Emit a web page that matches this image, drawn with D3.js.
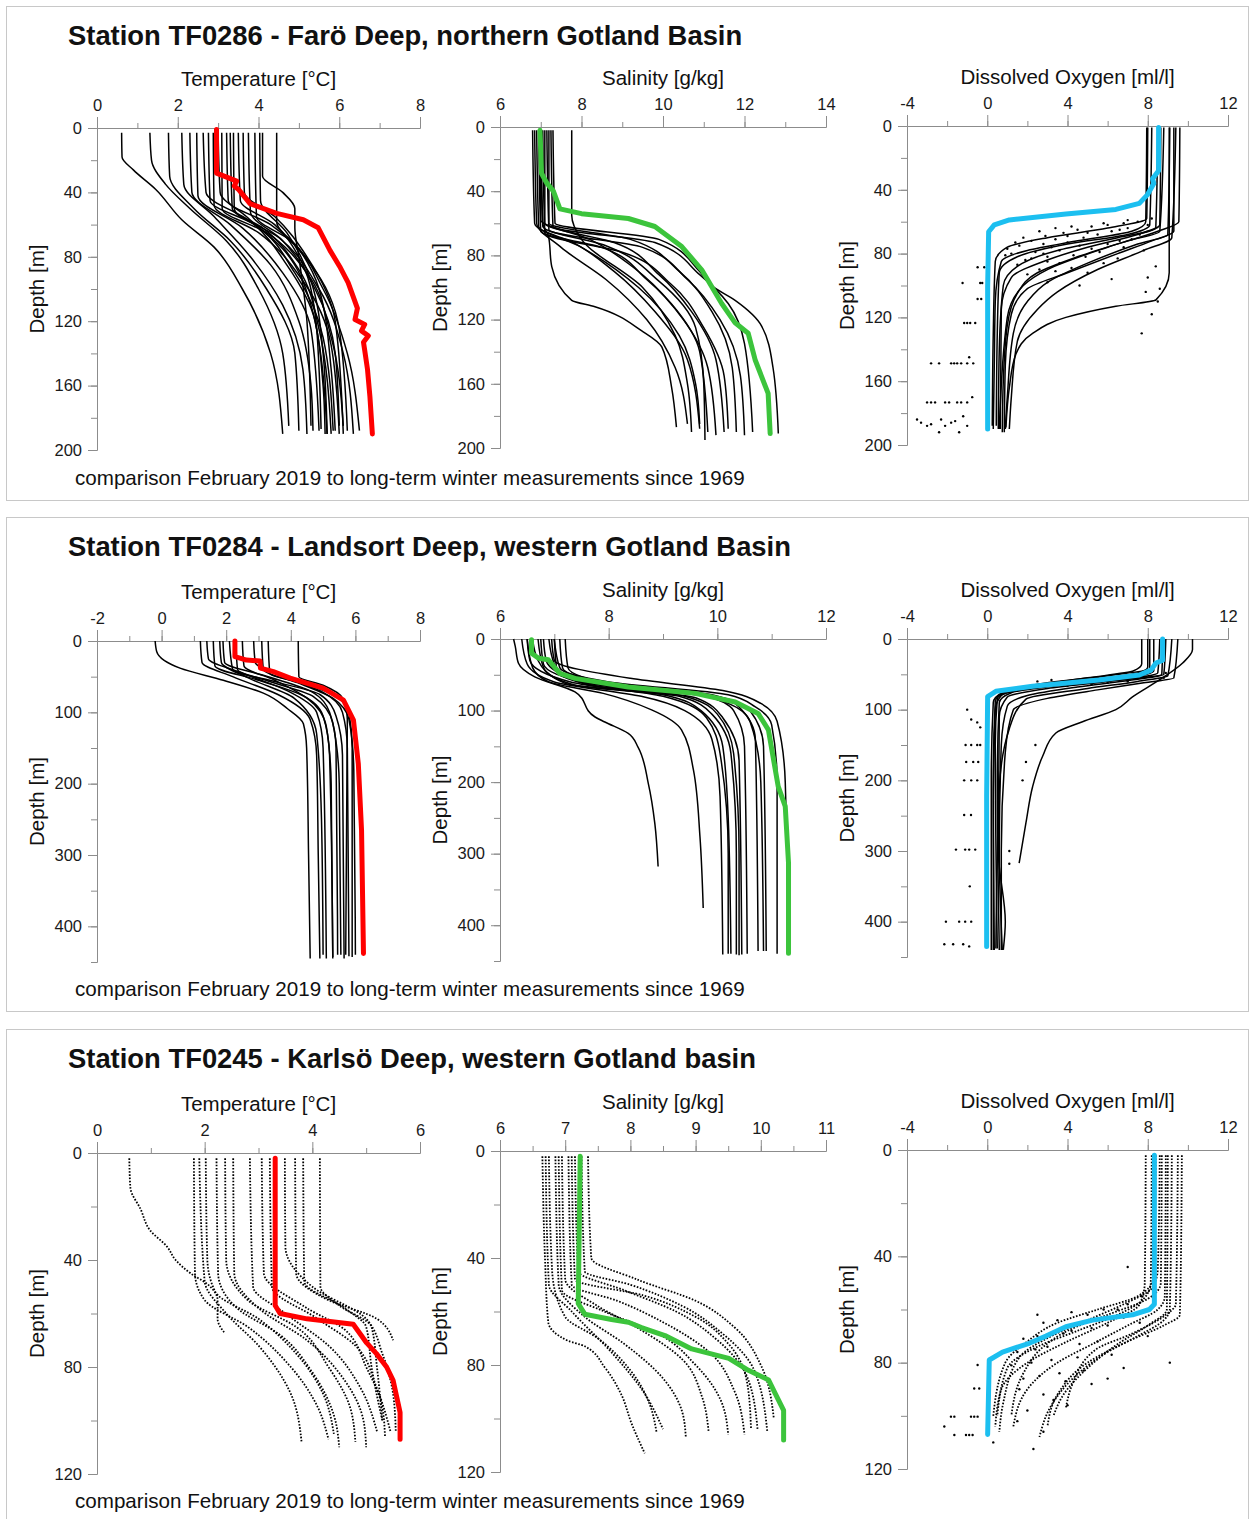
<!DOCTYPE html>
<html>
<head>
<meta charset="utf-8">
<script src="https://cdn.jsdelivr.net/npm/d3@7"></script>
<style>
  body { margin: 0; background: #fff; }
  svg { display: block; font-family: "Liberation Sans", Arial, sans-serif; }
  .axis path, .axis line { stroke: #8c8c8c; }
  .axis text { font-size: 16.5px; fill: #1a1a1a; font-family: "Liberation Sans", Arial, sans-serif; }
</style>
</head>
<body>
<svg id="chart"></svg>
<script>
// ---- texts ----
var stationTitles = [
  "Station TF0286 - Farö Deep, northern Gotland Basin",
  "Station TF0284 - Landsort Deep, western Gotland Basin",
  "Station TF0245 - Karlsö Deep, western Gotland basin"
];
var footNote = "comparison February 2019 to long-term winter measurements since 1969";
var varTitles = ["Temperature [°C]", "Salinity [g/kg]", "Dissolved Oxygen [ml/l]"];
var depthTitle = "Depth [m]";

// ---- tick labels ----
var faroXTicks = [[0, 2, 4, 6, 8], [6, 8, 10, 12, 14], [-4, 0, 4, 8, 12]];
var faroXMinor = [1, 1, 2];
var faroDepthTicks = [0, 40, 80, 120, 160, 200];
var faroDepthMinor = 20, faroDepthMax = 200;

var landsortXTicks = [[-2, 0, 2, 4, 6, 8], [6, 8, 10, 12], [-4, 0, 4, 8, 12]];
var landsortXMinor = [1, 1, 2];
var landsortDepthTicks = [0, 100, 200, 300, 400];
var landsortDepthMinor = 50, landsortDepthMax = 450;

var karlsoXTicks = [[0, 2, 4, 6], [6, 7, 8, 9, 10, 11], [-4, 0, 4, 8, 12]];
var karlsoXMinor = [1, 0.5, 2];
var karlsoDepthTicks = [0, 40, 80, 120];
var karlsoDepthMinor = 20, karlsoDepthMax = 120;

// ---- profiles: [depth, value] ----
// Farö Deep, February 2019
var faroTempNow = [[1,2.96],[28,2.96],[33,3.46],[36,3.4],[38,3.5],[47,3.79],[53,4.45],[57,5.11],[62,5.48],[76,5.77],[86,6.01],[96,6.22],[105,6.35],[112,6.45],[119,6.39],[122,6.63],[126,6.55],[129,6.72],[133,6.6],[138,6.63],[150,6.7],[167,6.76],[190,6.82]];
var faroSalNow = [[2,6.98],[29,7.02],[35,7.15],[40,7.31],[51,7.47],[54,8.0],[57,9.15],[62,9.8],[74.5,10.46],[89,10.95],[110,11.44],[122,11.77],[128.5,12.09],[145,12.26],[166,12.58],[191,12.63]];
var faroOxyNow = [[1,8.54],[28,8.54],[33,8.24],[36,8.3],[43,7.99],[48.5,7.58],[52.3,6.41],[55.2,3.92],[58.9,1.1],[62,0.35],[66.3,0.07],[101,0.02],[190,0.02]];

// Farö Deep, winter profiles since 1969
var faroTempHist = [
  [[3,0.61],[18,0.62],[26,0.9],[38,1.45],[57,2.1],[74,2.9],[100,3.6],[140,4.3],[190,4.6]],
  [[3,1.31],[20,1.35],[35,1.7],[50,2.3],[70,3.2],[100,4.0],[140,4.6],[185,4.75]],
  [[3,1.77],[30,1.8],[50,2.4],[70,3.3],[100,4.2],[140,4.9],[188,5.0]],
  [[3,2.1],[35,2.15],[55,2.9],[80,3.8],[110,4.6],[150,5.1],[190,5.2]],
  [[3,2.3],[40,2.35],[60,3.3],[85,4.3],[120,5.0],[160,5.3],[188,5.35]],
  [[3,2.47],[42,2.5],[62,3.6],[90,4.6],[125,5.3],[188,5.5]],
  [[3,2.63],[40,2.7],[58,3.8],[85,4.7],[120,5.4],[190,5.7]],
  [[3,2.76],[45,2.8],[60,3.9],[90,4.9],[130,5.6],[188,5.85]],
  [[3,2.88],[48,2.9],[65,4.0],[95,5.1],[135,5.8],[190,6.0]],
  [[3,3.0],[40,3.05],[55,3.7],[75,4.6],[110,5.3],[160,5.6],[190,5.65]],
  [[3,3.09],[50,3.1],[65,4.2],[90,5.2],[130,5.8],[185,6.1]],
  [[3,3.21],[45,3.25],[60,4.3],[85,5.3],[125,6.0],[188,6.2]],
  [[3,3.3],[50,3.35],[62,4.1],[88,5.0],[125,5.5],[190,5.8]],
  [[3,3.38],[50,3.4],[68,4.5],[100,5.5],[140,6.1],[190,6.35]],
  [[3,3.5],[45,3.55],[60,4.4],[80,5.0],[115,5.4],[150,5.5],[187,5.55]],
  [[3,3.62],[40,3.65],[55,4.4],[80,5.2],[120,5.9],[190,6.1]],
  [[3,3.75],[52,3.8],[70,4.6],[100,5.4],[140,5.9],[185,6.0]],
  [[3,3.91],[55,3.95],[70,4.8],[100,5.6],[140,6.2],[188,6.5]],
  [[3,4.03],[45,4.05],[65,4.7],[95,5.3],[140,5.6],[190,5.7]],
  [[3,4.1],[30,4.1],[40,4.6],[50,4.9],[62,4.9],[80,5.0],[120,5.2],[185,5.3]],
  [[3,4.45],[58,4.45],[75,5.0],[100,5.5],[150,5.8],[188,5.9]]
];
var faroSalHist = [
  [[2,7.76],[55,7.76],[70,8.0],[100,9.5],[130,10.3],[160,10.6],[190,10.7]],
  [[2,7.0],[60,7.05],[68,7.19],[87,7.27],[108,7.76],[112,8.33],[127,9.48],[137,9.97],[162,10.21],[187,10.33]],
  [[2,6.85],[60,6.9],[75,7.5],[95,8.6],[120,9.6],[150,10.3],[185,10.6]],
  [[2,6.9],[62,6.95],[72,7.8],[90,8.8],[115,9.8],[145,10.6],[188,10.9]],
  [[2,7.0],[58,7.0],[70,8.2],[88,9.3],[110,10.2],[140,10.9],[190,11.1]],
  [[2,6.95],[65,7.0],[75,8.5],[95,9.6],[120,10.5],[150,11.1],[192,11.3]],
  [[2,7.1],[60,7.1],[72,8.8],[92,9.9],[115,10.7],[145,11.3],[190,11.5]],
  [[2,7.05],[66,7.1],[78,9.0],[98,10.2],[125,11.0],[155,11.5],[188,11.6]],
  [[2,7.2],[60,7.2],[70,9.2],[90,10.4],[115,11.2],[150,11.7],[190,11.8]],
  [[2,7.15],[64,7.2],[75,9.5],[95,10.6],[120,11.4],[155,11.9],[192,12.0]],
  [[2,7.25],[62,7.3],[72,9.8],[92,10.9],[110,11.6],[135,12.0],[190,12.2]],
  [[2,7.3],[60,7.35],[70,9.9],[90,10.9],[99,11.2],[108,11.77],[124,12.42],[150,12.7],[191,12.83]],
  [[2,6.8],[60,6.85],[75,8.0],[100,9.4],[130,10.4],[160,10.8],[185,10.9]],
  [[2,7.0],[62,7.05],[74,8.6],[96,9.9],[125,10.8],[160,11.0],[195,11.03]]
];
var faroOxyHist = [
  [[1,7.95],[60,7.9],[66,7.2],[72,4.5],[78,2.0],[85,0.7],[110,0.4],[150,0.35],[190,0.3]],
  [[1,8.2],[62,8.1],[68,7.0],[74,4.0],[82,1.5],[92,0.6],[130,0.5],[188,0.45]],
  [[1,8.5],[64,8.4],[70,6.5],[78,3.5],[88,1.5],[100,0.8],[140,0.6],[190,0.55]],
  [[1,8.8],[66,8.6],[72,7.0],[82,4.5],[92,2.5],[105,1.5],[125,1.0],[160,0.8],[192,0.75]],
  [[1,9.1],[68,9.0],[74,7.5],[86,5.0],[98,3.0],[110,2.0],[130,1.3],[170,1.0],[190,0.9]],
  [[1,9.4],[70,9.2],[78,7.8],[90,5.5],[104,3.5],[115,2.5],[135,1.5],[170,1.2],[190,1.1]],
  [[1,9.07],[92,9.07],[109,8.41],[113,6.41],[120,3.92],[130,2.26],[143,1.43],[164,1.1],[189,0.93]],
  [[1,9.6],[60,9.55],[66,8.5],[76,6.0],[90,3.0],[100,1.8],[120,1.0],[190,0.6]],
  [[1,8.0],[58,7.95],[64,6.0],[70,3.0],[76,1.0],[85,0.4],[130,0.3],[188,0.25]],
  [[1,8.65],[62,8.6],[68,7.5],[76,5.0],[84,3.0],[95,1.2],[115,0.7],[190,0.65]],
  [[1,9.3],[66,9.3],[72,8.2],[80,6.5],[92,4.0],[102,2.0],[118,1.2],[150,0.9],[192,0.85]]
];
var faroOxyDots = [
  [60,7.5],[61,6.8],[62,6.0],[63,5.2],[64,7.0],[65,4.5],[66,6.2],[67,3.8],[68,5.5],[69,2.9],[70,4.8],
  [71,7.2],[72,2.2],[73,4.0],[74,6.0],[75,1.6],[76,3.2],[77,5.2],[78,7.8],[79,2.4],[80,1.2],[81,4.3],
  [82,3.0],[83,6.5],[84,1.9],[86,3.6],[88,8.4],[90,2.6],[92,5.0],[95,8.0],[100,4.6],[104,7.9],
  [58,8.2],[59,7.0],[61,5.8],[62,8.0],[63,4.2],[64,3.4],[65,6.6],[66,2.6],[67,5.0],[68,7.6],[69,4.0],
  [70,1.8],[71,3.4],[72,6.6],[73,1.4],[74,2.8],[75,4.6],[76,6.8],[77,1.0],[78,3.6],[79,5.6],[80,2.8],
  [81,0.9],[82,4.9],[83,2.2],[85,3.0],[86,5.8],[87,1.5],[89,4.2],[91,3.4],[93,2.0],[96,6.2],[98,3.0],
  [102,8.6],[110,8.5],[118,8.2],[130,7.7],
  [88.6,-0.48],[88.6,-0.15],[98.4,-1.23],[98.4,-0.35],[98.4,-0.25],[108.5,-0.48],[108.5,-0.3],
  [123.5,-1.15],[123.5,-1.0],[123.5,-0.85],[123.5,-0.6],[148.8,-2.8],[148.8,-2.4],[148.8,-1.8],
  [148.8,-1.65],[148.8,-1.5],[148.8,-1.3],[148.8,-1.0],[148.8,-0.7],[145,-0.9],[173.3,-3.0],
  [173.3,-2.8],[173.3,-2.6],[173.3,-2.1],[173.3,-1.9],[173.3,-1.5],[173.3,-1.3],[173.3,-1.0],
  [170,-0.75],[184,-3.5],[186,-3.3],[188,-3.0],[187,-2.8],[184,-2.3],[188,-2.1],[186,-1.8],
  [185,-1.6],[182,-1.2],[188,-1.0],[192,-1.4],[192,-2.4]
];

// Landsort Deep, February 2019
var landsortTempNow = [[0,2.27],[22,2.27],[26.7,2.63],[28,3.05],[38,3.06],[43,3.46],[52,3.98],[66,5.0],[83,5.63],[111,5.94],[172,6.09],[265,6.19],[438,6.25]];
var landsortSalNow = [[1,6.58],[20,6.58],[27,6.71],[29,6.89],[48,7.1],[55,7.38],[67,8.36],[76,9.59],[88,10.33],[104,10.75],[127,10.94],[206,11.12],[234,11.25],[313,11.31],[439,11.31]];
var landsortOxyNow = [[0,8.74],[30,8.74],[34,8.41],[44,8.16],[51,7.58],[58,5.58],[67,2.26],[74,0.43],[81.5,0.02],[223,-0.03],[435,-0.03]];

// Landsort Deep, winter profiles since 1969
var landsortTempHist = [
  [[0,-0.2],[15,-0.15],[38,0.57],[55,1.91],[73,3.15],[95,3.9],[116,4.39],[150,4.49],[300,4.55],[445,4.6]],
  [[0,1.2],[30,1.25],[50,2.2],[75,3.6],[110,4.6],[160,4.8],[300,4.85],[445,4.9]],
  [[0,1.4],[25,1.45],[45,2.5],[70,3.9],[100,4.8],[150,5.0],[445,5.1]],
  [[0,1.6],[35,1.65],[55,3.0],[75,4.3],[105,5.0],[160,5.2],[443,5.3]],
  [[0,1.8],[30,1.85],[52,2.7],[80,4.1],[130,4.8],[250,4.95],[440,5.0]],
  [[0,1.9],[30,1.95],[50,3.3],[70,4.6],[100,5.2],[150,5.4],[440,5.45]],
  [[0,2.1],[40,2.2],[58,3.6],[75,4.9],[105,5.4],[160,5.6],[445,5.65]],
  [[0,2.5],[35,2.55],[55,3.5],[80,4.5],[120,5.1],[200,5.25],[445,5.3]],
  [[0,2.85],[30,2.9],[52,3.9],[72,5.0],[100,5.6],[150,5.75],[442,5.8]],
  [[0,3.1],[40,3.15],[60,4.3],[80,5.3],[110,5.8],[180,5.95],[440,6.0]],
  [[0,3.3],[45,3.35],[62,4.6],[78,5.4],[100,5.8],[150,5.9],[443,5.9]],
  [[0,2.3],[40,2.35],[56,3.3],[78,4.7],[115,5.3],[200,5.5],[440,5.55]],
  [[0,4.23],[50,4.25],[62,5.0],[80,5.6],[110,5.75],[440,5.7]]
];
var landsortSalHist = [
  [[0,6.25],[10,6.28],[34,6.34],[53,6.64],[74,7.38],[109,7.75],[116,7.93],[132,8.36],[151,8.54],[202,8.73],[258,8.85],[318,8.91]],
  [[0,6.5],[40,6.6],[60,6.9],[76,7.9],[99,8.79],[127,9.34],[183,9.56],[276,9.68],[376,9.74]],
  [[0,6.4],[35,6.5],[60,7.0],[80,8.6],[100,9.4],[140,9.9],[220,10.05],[441,10.1]],
  [[0,6.6],[30,6.7],[62,7.2],[78,9.0],[100,9.7],[150,10.1],[250,10.2],[440,10.25]],
  [[0,6.7],[40,6.8],[65,7.4],[80,9.3],[105,9.9],[160,10.25],[300,10.35],[441,10.35]],
  [[0,6.9],[35,7.0],[64,7.6],[82,9.6],[110,10.1],[170,10.4],[441,10.45]],
  [[0,7.0],[45,7.05],[66,7.8],[80,9.8],[100,10.3],[150,10.5],[440,10.55]],
  [[0,7.1],[40,7.15],[62,8.0],[78,9.9],[95,10.4],[140,10.7],[436,10.75]],
  [[0,7.2],[40,7.25],[65,8.2],[82,10.1],[100,10.6],[150,10.85],[436,10.9]],
  [[0,6.8],[30,6.85],[60,7.5],[76,9.5],[90,10.2],[115,10.6],[200,10.8],[436,10.85]],
  [[0,7.0],[40,7.1],[60,8.0],[78,10.2],[95,10.7],[120,11.0],[200,11.1],[440,11.1]],
  [[0,6.95],[30,7.0],[55,8.4],[72,10.1],[90,10.8],[115,11.1],[200,11.25],[440,11.3]],
  [[0,6.5],[30,6.55],[60,7.3],[80,9.0],[110,9.8],[160,10.05],[300,10.2],[440,10.2]],
  [[0,6.75],[35,6.8],[63,7.7],[80,9.4],[105,10.0],[160,10.3],[300,10.4],[442,10.4]]
];
var landsortOxyHist = [
  [[0,7.7],[35,7.7],[45,7.3],[55,5.0],[65,2.5],[75,0.8],[90,0.3],[200,0.2],[440,0.2]],
  [[0,8.0],[40,8.0],[50,7.2],[60,4.5],[70,2.0],[80,0.7],[100,0.4],[250,0.3],[440,0.3]],
  [[0,8.3],[45,8.3],[55,7.0],[62,4.0],[72,1.5],[85,0.5],[150,0.4],[438,0.5]],
  [[0,8.6],[48,8.5],[58,6.5],[66,3.5],[76,1.2],[90,0.6],[200,0.5],[440,0.6]],
  [[0,8.9],[50,8.8],[58,7.2],[68,4.5],[80,2.0],[95,1.0],[150,0.7],[300,0.6],[440,0.75]],
  [[0,9.2],[52,9.0],[60,7.5],[70,5.0],[85,1.93],[127,1.1],[212,0.6],[438,0.43]],
  [[0,9.5],[55,9.3],[62,7.8],[72,5.5],[84,3.0],[100,1.3],[160,0.9],[300,0.7],[440,0.7]],
  [[0,10.23],[15,10.23],[34,9.74],[58,8.58],[82,7.24],[100,6.41],[117,4.75],[133,3.42],[166,2.76],[209,2.26],[260,1.93],[317,1.59]],
  [[0,8.1],[42,8.1],[52,6.0],[62,3.0],[74,1.0],[88,0.4],[200,0.3],[440,0.35]],
  [[0,8.75],[50,8.7],[60,6.0],[70,3.0],[82,1.0],[110,0.6],[300,0.55],[400,0.9],[440,0.8]]
];
var landsortOxyDots = [
  [48,8.9],[55,8.8],[60,7.0],[62,6.0],[64,5.2],[66,4.0],[58,3.2],[60,2.5],[100,-1.0],[114,-0.8],
  [118,-0.5],[125,-0.35],[150,-1.08],[150,-0.8],[150,-0.5],[150,-0.35],[150,2.4],[174,-1.05],
  [174,-0.7],[174,-0.45],[174,1.93],[200,-1.15],[200,-0.8],[200,-0.5],[200,1.76],[249,-1.15],
  [249,-0.81],[298,-1.56],[298,-1.1],[298,-0.9],[298,-0.6],[300,1.1],[318,1.1],[350,-0.87],
  [400,-2.06],[400,-1.4],[400,-1.1],[400,-0.8],[432,-2.14],[432,-1.7],[432,-1.2],[435,-0.9]
];

// Karlsö Deep, February 2019
var karlsoTempNow = [[2,3.31],[57,3.31],[60,3.4],[62,3.9],[64,4.76],[71,5.01],[75,5.19],[80,5.38],[85,5.5],[97,5.63],[107,5.63]];
var karlsoSalNow = [[2,7.23],[57,7.2],[61,7.3],[63,7.71],[64,7.97],[66,8.17],[69,8.53],[74,8.94],[77.5,9.51],[82,9.81],[85.6,10.12],[90.6,10.22],[97,10.35],[108,10.35]];
var karlsoOxyNow = [[2,8.33],[58,8.33],[60,8.08],[62,7.24],[64,5.25],[66.5,3.92],[70,2.93],[72.7,2.09],[76,0.76],[79,0.1],[107,0.02]];

// Karlsö Deep, winter profiles since 1969
var karlsoTempHist = [
  [[2,0.6],[13,0.62],[21,0.81],[29,0.99],[35,1.3],[40,1.46],[45,1.74],[49,2.05],[55,2.24],[62,2.24],[67,2.36]],
  [[2,1.8],[45,1.82],[55,2.0],[65,2.8],[80,3.6],[95,4.1],[107,4.3]],
  [[2,1.9],[48,2.0],[60,2.4],[72,3.0],[90,3.6],[108,3.8]],
  [[2,2.02],[40,2.05],[52,2.2],[62,3.0],[75,3.7],[90,4.2],[105,4.4]],
  [[2,2.22],[45,2.25],[58,2.6],[68,3.4],[82,4.0],[98,4.4],[110,4.5]],
  [[2,2.38],[40,2.4],[55,2.8],[65,3.7],[80,4.3],[95,4.7],[108,4.8]],
  [[2,2.53],[45,2.55],[58,3.0],[70,3.9],[85,4.6],[100,4.95],[110,5.0]],
  [[2,2.84],[50,2.9],[60,3.5],[72,4.3],[88,4.9],[104,5.2]],
  [[2,3.06],[45,3.1],[58,3.9],[66,4.6],[80,5.0],[95,5.3],[106,5.35]],
  [[2,3.21],[50,3.25],[62,4.1],[72,4.8],[88,5.2],[104,5.45]],
  [[2,3.49],[35,3.5],[50,4.0],[62,5.0],[75,5.3],[90,5.5],[104,5.55]],
  [[2,3.68],[45,3.7],[55,4.3],[62,5.2],[70,5.5]],
  [[2,3.83],[48,3.85],[58,4.6],[65,5.0],[80,5.1],[100,5.3]],
  [[2,4.14],[50,4.15],[57,4.5],[65,5.1],[80,5.2],[100,5.3]]
];
var karlsoSalHist = [
  [[2,6.65],[40,6.69],[64,6.74],[71,7.05],[73,7.3],[81,7.61],[91,7.86],[102,8.02],[113,8.22]],
  [[2,6.75],[45,6.8],[62,7.0],[70,7.5],[82,8.0],[95,8.3],[105,8.4]],
  [[2,6.7],[50,6.75],[60,7.1],[75,7.7],[90,8.2],[104,8.5]],
  [[2,6.85],[50,6.9],[62,7.3],[72,7.9],[85,8.5],[98,8.8],[107,8.85]],
  [[2,6.9],[52,6.95],[60,7.6],[68,8.4],[80,9.0],[94,9.4],[106,9.5]],
  [[2,6.95],[48,7.0],[58,7.5],[66,8.1],[78,8.8],[92,9.1],[105,9.2]],
  [[2,7.05],[50,7.1],[56,7.8],[64,8.5],[75,9.2],[90,9.6],[106,9.75]],
  [[2,7.1],[48,7.15],[54,8.2],[62,9.0],[72,9.5],[88,9.8],[104,9.85]],
  [[2,7.15],[45,7.2],[52,7.9],[60,8.7],[70,9.3],[85,9.8],[104,9.95]],
  [[2,7.25],[45,7.3],[50,8.0],[58,8.8],[68,9.4],[82,9.9],[105,10.1]],
  [[2,7.35],[40,7.4],[48,8.1],[56,9.0],[66,9.6],[80,10.0],[100,10.2]]
];
var karlsoOxyHist = [
  [[2,7.9],[50,7.85],[58,7.6],[65,6.0],[72,4.0],[80,2.0],[90,0.7],[104,0.4]],
  [[2,8.2],[50,8.15],[56,7.8],[62,6.5],[68,4.5],[74,2.5],[82,1.0],[100,0.5]],
  [[2,8.4],[48,8.3],[55,7.5],[60,5.5],[65,3.5],[72,2.0],[80,0.9],[100,0.3]],
  [[2,8.6],[45,8.5],[52,8.2],[58,6.8],[64,5.0],[70,3.2],[78,1.6],[95,0.8],[106,0.6]],
  [[2,8.7],[50,8.65],[56,8.0],[62,6.0],[68,4.0],[74,2.8],[84,1.8],[100,1.2]],
  [[2,8.9],[55,8.85],[60,8.5],[66,7.0],[72,5.5],[80,3.5],[90,2.0],[104,1.3]],
  [[2,9.0],[60,8.95],[66,8.0],[73,6.5],[82,5.0],[92,3.8],[100,3.3]],
  [[2,9.2],[60,9.1],[64,8.8],[70,7.5],[76,6.0],[85,4.4],[96,3.2],[108,2.6]],
  [[2,9.5],[58,9.4],[62,8.9],[69,7.24],[75,5.42],[88,4.25],[97,3.92]],
  [[2,9.7],[62,9.6],[66,8.8],[72,7.0],[80,5.0],[92,3.5],[104,3.0]]
];
var karlsoOxyDots = [
  [80.9,-0.48],[89.7,-0.65],[89.7,-0.4],[100.3,-1.81],[100.3,-1.64],[100.3,-0.81],[100.3,-0.65],
  [100.3,-0.48],[104,-2.14],[107.2,-1.64],[107.2,-1.06],[107.2,-0.9],[107.2,-0.73],[110,0.3],
  [112.5,2.3],[60,6.5],[62,5.0],[64,3.5],[66,6.0],[68,4.2],[70,2.5],[72,5.5],[74,3.0],[76,1.5],
  [78,4.5],[80,2.2],[82,6.8],[84,3.6],[86,1.8],[88,5.2],[92,2.8],[96,4.0],[44,7.0],[80,9.1],
  [65,7.6],[55,7.7],
  [58,7.0],[60,5.8],[61,4.2],[63,6.8],[65,2.8],[67,5.2],[69,3.8],[71,1.8],[73,4.6],[75,2.4],
  [77,6.2],[79,3.2],[81,1.2],[83,4.8],[85,2.6],[87,3.9],[90,1.6],[94,3.3],[98,2.0],[102,1.5],
  [106,2.8],[62,2.5],[86,6.0],[70,8.0]
];

// ---- page layout ----
var width = 1250, height = 1519;
var panelTop = [6, 517, 1029];
var colLeft = [97, 500, 907], colRight = [420, 826, 1228];
var plotTop = [[128, 127, 126], [641, 639, 639], [1153, 1151, 1150]];
var plotBottom = [[450, 448, 445], [962, 961, 957], [1474, 1472, 1469]];
var nowColors = ["#ff0000", "#3cc43c", "#1cbff0"];

var stations = [
  {xTicks: faroXTicks, xMinor: faroXMinor, dTicks: faroDepthTicks, dMinor: faroDepthMinor, dMax: faroDepthMax,
   hist: [faroTempHist, faroSalHist, faroOxyHist], now: [faroTempNow, faroSalNow, faroOxyNow], dots: [[], [], faroOxyDots], dotted: false},
  {xTicks: landsortXTicks, xMinor: landsortXMinor, dTicks: landsortDepthTicks, dMinor: landsortDepthMinor, dMax: landsortDepthMax,
   hist: [landsortTempHist, landsortSalHist, landsortOxyHist], now: [landsortTempNow, landsortSalNow, landsortOxyNow], dots: [[], [], landsortOxyDots], dotted: false},
  {xTicks: karlsoXTicks, xMinor: karlsoXMinor, dTicks: karlsoDepthTicks, dMinor: karlsoDepthMinor, dMax: karlsoDepthMax,
   hist: [karlsoTempHist, karlsoSalHist, karlsoOxyHist], now: [karlsoTempNow, karlsoSalNow, karlsoOxyNow], dots: [[], [], karlsoOxyDots], dotted: true}
];

var plain = function(d) { return String(d); };   // hyphen minus like the original

var svg = d3.select("#chart")
  .attr("width", width)
  .attr("height", height);

stations.forEach(function(st, i) {
  var top = panelTop[i];

  svg.append("rect")
    .attr("x", 6.5).attr("y", top + 0.5)
    .attr("width", 1242).attr("height", 494)
    .attr("fill", "none")
    .attr("stroke", "#c8c8c8");

  svg.append("text")
    .attr("x", 68).attr("y", top + 39)
    .style("font-size", "27.4px").style("font-weight", "bold")
    .attr("fill", "#111")
    .text(stationTitles[i]);

  svg.append("text")
    .attr("x", 75).attr("y", top + 479)
    .style("font-size", "20.6px")
    .attr("fill", "#111")
    .text(footNote);

  for (var j = 0; j < 3; j++) {
    var ticks = st.xTicks[j];
    var x = d3.scaleLinear()
      .domain([ticks[0], ticks[ticks.length - 1]])
      .range([colLeft[j], colRight[j]]);
    var y = d3.scaleLinear()
      .domain([0, st.dMax])
      .range([plotTop[i][j], plotBottom[i][j]]);

    var g = svg.append("g");

    // minor + major x ticks on top
    g.append("g").attr("class", "axis")
      .attr("transform", "translate(0," + plotTop[i][j] + ")")
      .call(d3.axisTop(x)
        .tickValues(d3.range(ticks[0], ticks[ticks.length - 1] + 1e-6, st.xMinor[j]))
        .tickSize(5).tickSizeOuter(0).tickFormat(""));
    g.append("g").attr("class", "axis")
      .attr("transform", "translate(0," + plotTop[i][j] + ")")
      .call(d3.axisTop(x)
        .tickValues(ticks)
        .tickSize(11).tickSizeOuter(0).tickPadding(6)
        .tickFormat(plain));

    // depth axis
    g.append("g").attr("class", "axis")
      .attr("transform", "translate(" + colLeft[j] + ",0)")
      .call(d3.axisLeft(y)
        .tickValues(d3.range(0, st.dMax + 1e-6, st.dMinor))
        .tickSize(6).tickSizeOuter(0).tickFormat(""));
    g.append("g").attr("class", "axis")
      .attr("transform", "translate(" + colLeft[j] + ",0)")
      .call(d3.axisLeft(y)
        .tickValues(st.dTicks)
        .tickSize(9).tickSizeOuter(0).tickPadding(6)
        .tickFormat(plain));

    g.selectAll(".axis .domain").attr("stroke", "#8c8c8c");

    g.append("text")
      .attr("x", (colLeft[j] + colRight[j]) / 2)
      .attr("y", plotTop[i][j] - 42)
      .attr("text-anchor", "middle")
      .style("font-size", "20.5px")
      .attr("fill", "#111")
      .text(varTitles[j]);

    g.append("text")
      .attr("transform", "translate(" + (colLeft[j] - 53) + "," + ((plotTop[i][j] + plotBottom[i][j]) / 2) + ") rotate(-90)")
      .attr("text-anchor", "middle")
      .style("font-size", "20.5px")
      .attr("fill", "#111")
      .text(depthTitle);

    var line = d3.line()
      .x(function(d) { return x(d[1]); })
      .y(function(d) { return y(d[0]); })
      .curve(d3.curveMonotoneY);

    g.append("g").selectAll("path")
      .data(st.hist[j])
      .enter().append("path")
      .attr("d", line)
      .attr("fill", "none")
      .attr("stroke", "#000")
      .attr("stroke-width", st.dotted ? 1.8 : 1.5)
      .attr("stroke-dasharray", st.dotted ? "1.6,1.6" : null);

    g.append("g").selectAll("circle")
      .data(st.dots[j])
      .enter().append("circle")
      .attr("cx", function(d) { return x(d[1]); })
      .attr("cy", function(d) { return y(d[0]); })
      .attr("r", 1.2)
      .attr("fill", "#000");

    g.append("path")
      .datum(st.now[j])
      .attr("d", d3.line()
        .x(function(d) { return x(d[1]); })
        .y(function(d) { return y(d[0]); }))
      .attr("fill", "none")
      .attr("stroke", nowColors[j])
      .attr("stroke-width", 5)
      .attr("stroke-linejoin", "round")
      .attr("stroke-linecap", "round");
  }
});
</script>
</body>
</html>
